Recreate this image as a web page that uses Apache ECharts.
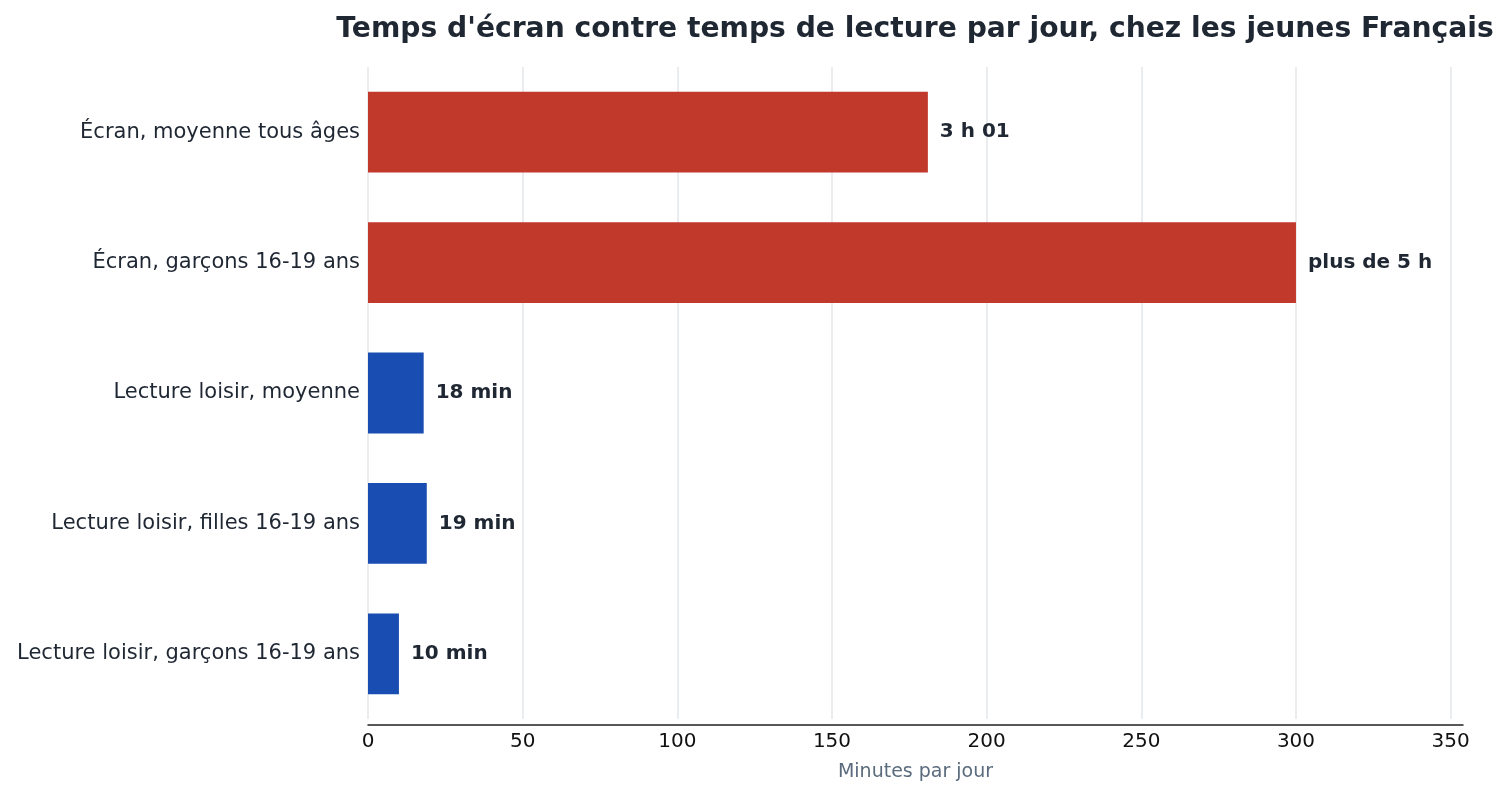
<!DOCTYPE html>
<html><head><meta charset="utf-8">
<script src="https://cdn.jsdelivr.net/npm/echarts@6/dist/echarts.min.js"></script>
<style>html,body{margin:0;padding:0;background:#fff}#c{width:1509px;height:795px}</style>
</head><body><div id="c"></div>
<script>
const categories = ["Écran, moyenne tous âges","Écran, garçons 16-19 ans","Lecture loisir, moyenne","Lecture loisir, filles 16-19 ans","Lecture loisir, garçons 16-19 ans"];
const values = [181, 300, 18, 19, 10];
const labels = ["3 h 01","plus de 5 h","18 min","19 min","10 min"];
const colors = ["#c0392b","#c0392b","#1a4db2","#1a4db2","#1a4db2"];
const xTicks = [0,50,100,150,200,250,300,350];

const FF = '"DejaVu Sans", sans-serif';
const chart = echarts.init(document.getElementById('c'));
chart.setOption({
  animation:false,
  title:{text:"Temps d'écran contre temps de lecture par jour, chez les jeunes Français",left:910,top:11,textAlign:'center',
    textStyle:{fontFamily:FF,fontWeight:'bold',fontSize:28.2,color:'#1f2733'}},
  grid:{left:368,right:46,top:67,bottom:76},
  xAxis:{type:'value',min:0,max:354,interval:50,offset:6,
    name:'Minutes par jour',nameLocation:'middle',nameGap:38,
    nameTextStyle:{fontFamily:FF,fontSize:19,color:'#5a6b7d'},
    axisLine:{show:true,lineStyle:{color:'#222',width:1.5}},axisTick:{show:false},
    axisLabel:{fontFamily:FF,fontSize:20,color:'#111',margin:7,
      formatter:v=>xTicks.includes(v)?String(v):''},
    splitLine:{show:true,showMaxLine:false,lineStyle:{color:'#e3e7eb',width:1.5}}},
  yAxis:{type:'category',data:categories,inverse:true,
    axisLine:{show:false},axisTick:{show:false},
    axisLabel:{fontFamily:FF,fontSize:21,color:'#1f2733',margin:8},
    splitLine:{show:false}},
  series:[{type:'bar',barCategoryGap:'38%',
    data:values.map((v,i)=>({value:v,itemStyle:{color:colors[i]},
      label:{show:true,position:'right',distance:12,formatter:labels[i],
        fontFamily:FF,fontWeight:'bold',fontSize:20,color:'#1f2733'}}))}]
});
</script></body></html>
